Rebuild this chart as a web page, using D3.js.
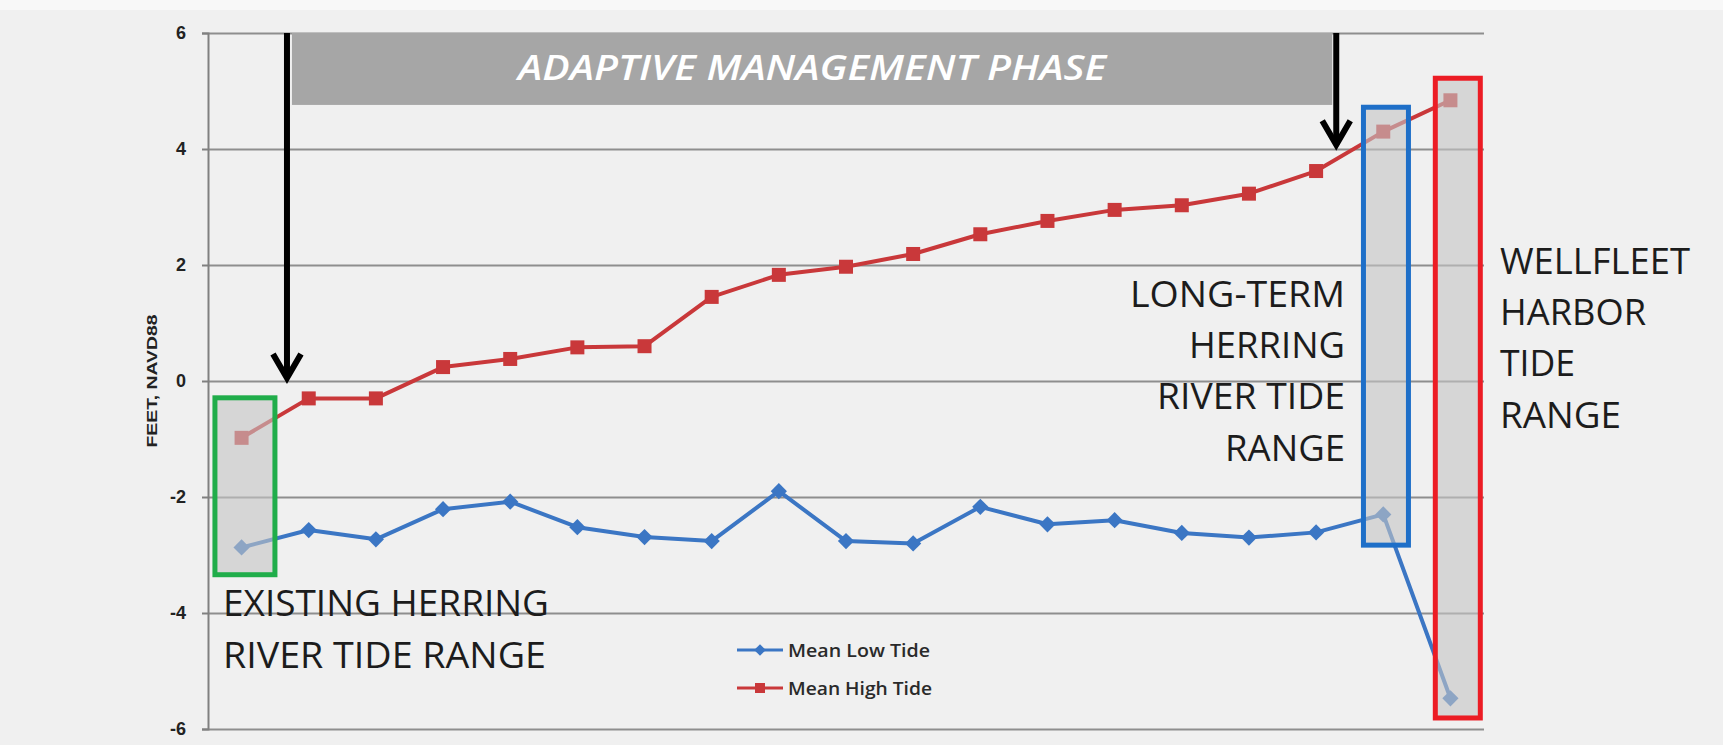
<!DOCTYPE html>
<html>
<head>
<meta charset="utf-8">
<script src="https://cdn.jsdelivr.net/npm/d3@7"></script>
<style>
  html, body { margin: 0; padding: 0; background: #f0f0f0; }
  svg { display: block; }
</style>
</head>
<body>
<div id="chart"></div>
<script>
// tide elevations (feet, NAVD88)
const steps = [1, 2, 3, 4, 5, 6, 7, 8, 9, 10, 11, 12, 13, 14, 15, 16, 17, 18, 19];
const meanLowTide = [-2.87, -2.57, -2.73, -2.21, -2.08, -2.52, -2.69, -2.76, -1.9, -2.76,
                     -2.8, -2.17, -2.47, -2.4, -2.62, -2.7, -2.61, -2.3, -5.47];
const meanHighTide = [-0.98, -0.3, -0.3, 0.24, 0.38, 0.58, 0.6, 1.45, 1.83, 1.97,
                      2.19, 2.53, 2.76, 2.95, 3.03, 3.23, 3.62, 4.3, 4.84];
const yTicks = [-6, -4, -2, 0, 2, 4, 6];
const seriesNames = ['Mean Low Tide', 'Mean High Tide'];

// tide range boxes: centre (in steps) and span (feet)
const rangeBoxes = [
    { key: 'existing', step: 1.05, top: -0.29, bottom: -3.34 },
    { key: 'longterm', step: 18.04, top: 4.72, bottom: -2.83 },
    { key: 'harbor', step: 19.11, top: 5.22, bottom: -5.81 }
];
// adaptive management phase bar and its two arrows
const phaseBar = { start: 1.75, end: 17.24, top: 6, bottom: 4.76 };
const phaseArrows = [{ step: 1.676, tip: 0 }, { step: 17.3, tip: 4.02 }];

const width = 1723, height = 745;
const plot = { left: 208, right: 1484, top: 33, bottom: 729 };

const lowColor = '#3b76c4';
const highColor = '#c9383a';
const boxColors = { existing: '#20ad4a', longterm: '#1e6fc8', harbor: '#ec1c24' };

const svg = d3.select('#chart').append('svg')
    .attr('width', width)
    .attr('height', height);

svg.append('rect').attr('width', width).attr('height', height).attr('fill', '#f0f0f0');
svg.append('rect').attr('width', width).attr('height', 10).attr('fill', '#f8f8f8');

const x = d3.scalePoint().domain(steps).range([plot.left, plot.right]).padding(0.5);
const xAt = s => x(1) + (s - 1) * x.step();
const y = d3.scaleLinear().domain([-6, 6]).range([plot.bottom, plot.top]);

// gridlines
svg.append('g')
    .attr('transform', `translate(${plot.left},0)`)
    .call(d3.axisLeft(y).tickValues(yTicks).tickSize(-(plot.right - plot.left)).tickFormat(''))
    .call(g => g.select('.domain').remove())
    .call(g => g.selectAll('line').attr('stroke', '#8e8e8e').attr('stroke-width', 2));

// y axis with ticks and labels
svg.append('g')
    .attr('transform', `translate(${plot.left},0)`)
    .call(d3.axisLeft(y).tickValues(yTicks).tickSize(6).tickPadding(16).tickFormat(d => String(d)))
    .call(g => g.select('.domain').attr('stroke', '#808080').attr('stroke-width', 2))
    .call(g => g.selectAll('line').attr('stroke', '#808080').attr('stroke-width', 2))
    .call(g => g.selectAll('text')
        .attr('fill', '#222')
        .attr('font-family', 'Liberation Sans, Arial, sans-serif')
        .attr('font-weight', 'bold')
        .attr('font-size', '18px'));

svg.append('text')
    .attr('transform', `translate(157,${y(0)}) rotate(-90)`)
    .attr('text-anchor', 'middle')
    .attr('fill', '#222')
    .attr('font-family', 'Liberation Sans, Arial, sans-serif')
    .attr('font-weight', 'bold')
    .attr('font-size', '15px')
    .attr('textLength', 133)
    .attr('lengthAdjust', 'spacingAndGlyphs')
    .text('FEET, NAVD88');

// phase bar
svg.append('rect')
    .attr('x', xAt(phaseBar.start))
    .attr('y', y(phaseBar.top))
    .attr('width', xAt(phaseBar.end) - xAt(phaseBar.start))
    .attr('height', y(phaseBar.bottom) - y(phaseBar.top))
    .attr('fill', '#a6a6a6');

svg.append('text')
    .attr('x', (xAt(phaseBar.start) + xAt(phaseBar.end)) / 2)
    .attr('y', 80)
    .attr('text-anchor', 'middle')
    .attr('fill', '#ffffff')
    .attr('font-family', 'Open Sans, sans-serif')
    .attr('font-style', 'italic')
    .attr('font-weight', 600)
    .attr('font-size', '35px')
    .attr('textLength', 588)
    .attr('lengthAdjust', 'spacingAndGlyphs')
    .text('ADAPTIVE MANAGEMENT PHASE');

// series
const series = [
    { name: seriesNames[0], values: meanLowTide, color: lowColor, symbol: 'diamond' },
    { name: seriesNames[1], values: meanHighTide, color: highColor, symbol: 'square' }
];

const line = d3.line().x((d, i) => x(steps[i])).y(d => y(d));

const drawMarker = (sel, symbol, size, color) => {
    if (symbol === 'square') {
        sel.append('rect')
            .attr('x', -size / 2).attr('y', -size / 2)
            .attr('width', size).attr('height', size)
            .attr('fill', color);
    } else {
        const r = size * 0.58;
        sel.append('path')
            .attr('d', `M0,${-r}L${r},0L0,${r}L${-r},0Z`)
            .attr('fill', color);
    }
};

series.forEach(s => {
    svg.append('path')
        .datum(s.values)
        .attr('fill', 'none')
        .attr('stroke', s.color)
        .attr('stroke-width', 4)
        .attr('stroke-linejoin', 'round')
        .attr('d', line);

    svg.append('g').selectAll('g')
        .data(s.values)
        .join('g')
            .attr('transform', (d, i) => `translate(${x(steps[i])},${y(d)})`)
            .each(function() { drawMarker(d3.select(this), s.symbol, 14, s.color); });
});

// shaded tide range boxes over the lines
svg.append('g').selectAll('rect')
    .data(rangeBoxes)
    .join('rect')
        .attr('x', d => xAt(d.step) - (d.key === 'existing' ? 30 : 22.5))
        .attr('y', d => y(d.top))
        .attr('width', d => d.key === 'existing' ? 60 : 45)
        .attr('height', d => y(d.bottom) - y(d.top))
        .attr('fill', 'rgba(196,196,196,0.6)')
        .attr('stroke', d => boxColors[d.key])
        .attr('stroke-width', 5);

// arrows
const arrowG = svg.append('g')
    .attr('stroke', '#000')
    .attr('fill', 'none')
    .attr('stroke-width', 6);

phaseArrows.forEach(a => {
    const ax = xAt(a.step);
    const tip = y(a.tip);
    arrowG.append('line')
        .attr('x1', ax).attr('x2', ax)
        .attr('y1', y(6)).attr('y2', tip - 3);
    arrowG.append('path')
        .attr('d', `M${ax - 14},${tip - 27}L${ax},${tip - 3}L${ax + 14},${tip - 27}`)
        .attr('stroke-linejoin', 'miter');
});

// annotation text
const noteStyle = sel => sel
    .attr('fill', '#1c1c1c')
    .attr('font-family', 'Open Sans, sans-serif')
    .attr('font-size', '37px')
    .attr('lengthAdjust', 'spacingAndGlyphs');

const notes = [
    { text: 'EXISTING HERRING', x: 223, y: 616, w: 326, anchor: 'start' },
    { text: 'RIVER TIDE RANGE', x: 223, y: 668, w: 323, anchor: 'start' },
    { text: 'LONG-TERM', x: 1345, y: 307, w: 215, anchor: 'end' },
    { text: 'HERRING', x: 1345, y: 358, w: 156, anchor: 'end' },
    { text: 'RIVER TIDE', x: 1345, y: 409, w: 188, anchor: 'end' },
    { text: 'RANGE', x: 1345, y: 461, w: 120, anchor: 'end' },
    { text: 'WELLFLEET', x: 1500, y: 274, w: 190, anchor: 'start' },
    { text: 'HARBOR', x: 1500, y: 325, w: 146, anchor: 'start' },
    { text: 'TIDE', x: 1500, y: 376, w: 75, anchor: 'start' },
    { text: 'RANGE', x: 1500, y: 428, w: 121, anchor: 'start' }
];

svg.append('g').selectAll('text')
    .data(notes)
    .join('text')
        .call(noteStyle)
        .attr('x', d => d.x)
        .attr('y', d => d.y)
        .attr('text-anchor', d => d.anchor)
        .attr('textLength', d => d.w)
        .text(d => d.text);

// legend
const legend = svg.append('g').attr('transform', 'translate(737,650)');
series.forEach((s, i) => {
    const row = legend.append('g').attr('transform', `translate(0,${i * 38})`);
    row.append('line')
        .attr('x1', 0).attr('x2', 46)
        .attr('stroke', s.color)
        .attr('stroke-width', 3);
    const m = row.append('g').attr('transform', 'translate(23,0)');
    drawMarker(m, s.symbol, 10, s.color);
    row.append('text')
        .attr('x', 51)
        .attr('y', 7)
        .attr('fill', '#2a2a2a')
        .attr('font-family', 'Open Sans, sans-serif')
        .attr('font-weight', 600)
        .attr('font-size', '18px')
        .attr('textLength', i === 0 ? 142 : 144)
        .attr('lengthAdjust', 'spacingAndGlyphs')
        .text(s.name);
});
</script>
</body>
</html>
